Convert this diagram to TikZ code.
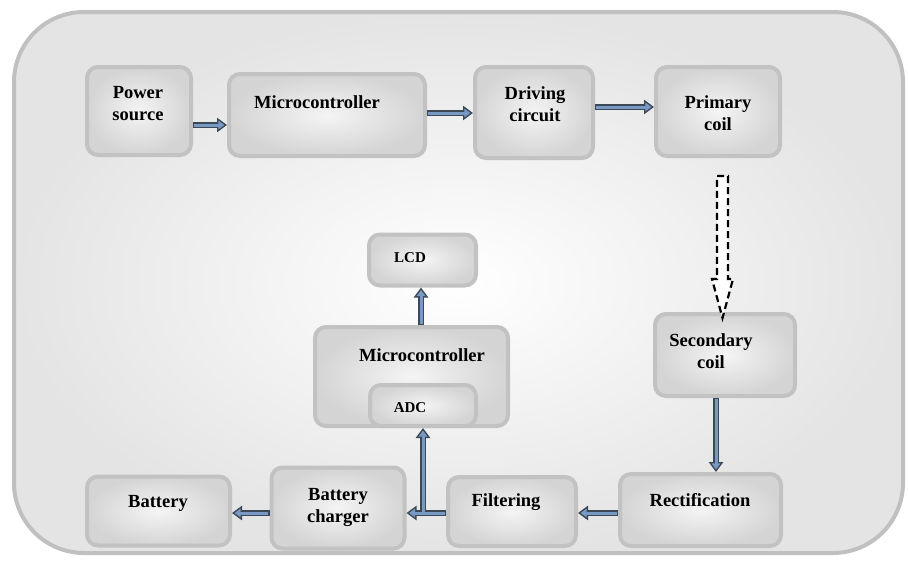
\documentclass[tikz,border=0pt]{standalone}
\usepackage{fontspec}
\setmainfont{Liberation Serif}
\usetikzlibrary{arrows.meta,calc}
\definecolor{frameline}{HTML}{C0C0C0}
\definecolor{bgout}{HTML}{E4E4E4}
\definecolor{boxline}{HTML}{C2C2C2}
\definecolor{boxout}{HTML}{D4D4D4}
\definecolor{boxin}{HTML}{F4F4F4}
\definecolor{arrdark}{HTML}{3C4856}
\definecolor{arrlight}{HTML}{7799C4}
\tikzset{
  blk/.style={draw=boxline, line width=4pt, rounded corners=11pt, inner color=boxin, outer color=boxout, inner sep=0pt},
  txt/.style={font=\fontsize{18.5}{22}\selectfont\bfseries, align=center, inner sep=0pt, text=black},
  arrout/.style={draw=arrdark, line width=6.5pt, -{Triangle[length=10pt,width=14pt]}},
  arrin/.style={draw=arrlight, line width=3pt, -{Triangle[length=6pt,width=8.5pt]}, shorten >=2.6pt, shorten <=1.2pt},
  dasharrow/.style={draw=black, fill=white, line width=2.2pt, dash pattern=on 7pt off 4pt, line join=miter}
}
\newcommand\barrow[2]{\draw[arrout] #1 -- #2; \draw[arrin] #1 -- #2;}
\begin{document}
\begin{tikzpicture}[x=1pt,y=-1pt]
\useasboundingbox (0,0) rectangle (908,565);
% outer frame
\draw[draw=frameline, line width=4pt, rounded corners=70pt, inner color=white, outer color=bgout] (14,12) rectangle (903,553);

% boxes
\node[blk, minimum width=104pt, minimum height=88pt] (ps) at (139,111) {};
\node[blk, minimum width=196pt, minimum height=82pt] (mc1) at (327,115) {};
\node[blk, minimum width=118pt, minimum height=91pt] (dc) at (534,112.5) {};
\node[blk, minimum width=124pt, minimum height=89pt] (pc) at (718,111.5) {};
\node[blk, minimum width=140pt, minimum height=82pt] (sc) at (725,355) {};
\node[blk, minimum width=161pt, minimum height=72pt] (rect) at (700.5,510) {};
\node[blk, minimum width=128pt, minimum height=69pt] (filt) at (512,511.5) {};
\node[blk, minimum width=133pt, minimum height=81pt] (bc) at (338,508) {};
\node[blk, minimum width=143pt, minimum height=69pt] (bat) at (158.5,511) {};
\node[blk, minimum width=193pt, minimum height=99pt] (mc2) at (411.5,376.5) {};
\node[blk, minimum width=106pt, minimum height=41pt] (adc) at (423,405.5) {};
\node[blk, minimum width=107pt, minimum height=51pt] (lcd) at (422.5,260) {};

% texts
\node[txt] (tps) at (138,104) {Power\\source};
\node[txt] (tmc1) at (317,102) {Microcontroller};
\node[txt] (tdc) at (535,104) {Driving\\circuit};
\node[txt] (tpc) at (718,113) {Primary\\coil};
\node[txt] (tsc) at (711,351) {Secondary\\coil};
\node[txt] (trect) at (700,500) {Rectification};
\node[txt] (tfilt) at (506,502) {Filtering};
\node[txt] (tbc) at (338,507) {Battery\\charger};
\node[txt] (tbat) at (158,503) {Battery};
\node[txt] (tmc2) at (422,355) {Microcontroller};
\node[txt, font=\fontsize{15}{18}\selectfont\bfseries] (tadc) at (410,408) {ADC};
\node[txt, font=\fontsize{15}{18}\selectfont\bfseries] (tlcd) at (410,258) {LCD};

% connectors
\coordinate (a1) at ([yshift=-14pt]ps.east);
\coordinate (a2) at ([yshift=2pt]mc1.east);
\coordinate (a3) at ([yshift=5.5pt]dc.east);
\coordinate (a4) at ([xshift=-9pt]sc.south);
\coordinate (a5) at ([yshift=-3pt]rect.west);
\coordinate (a6) at ([yshift=-1.5pt]filt.west);
\coordinate (j) at (adc.south |- a6);
\coordinate (a7) at ([yshift=-5pt]bc.west);
\coordinate (a8) at ([xshift=9.5pt]mc2.north);

\barrow{(a1)}{(mc1.west |- a1)}
\barrow{(a2)}{(dc.west |- a2)}
\barrow{(a3)}{(pc.west |- a3)}
\barrow{(a4)}{(rect.north -| a4)}
\barrow{(a5)}{(filt.east |- a5)}
\draw[arrout] (j) -- (adc.south);
\barrow{(a6)}{(bc.east |- a6)}
\draw[arrin] (j) -- (adc.south);
\barrow{(a7)}{(bat.east |- a7)}
\barrow{(a8)}{(lcd.south -| a8)}

% dashed hollow arrow (inductive link)
\coordinate (d0) at ($(pc.south)+(4.5,18)$);
\coordinate (dtip) at ($(sc.north)+(-2.5,6)$);
\draw[dasharrow] let \p1=(d0), \p2=(dtip) in
  (\x1-5.5pt,\y1) -- (\x1+5.5pt,\y1) -- (\x1+5.5pt,\y2+39pt) -- (\x1+10.5pt,\y2+39pt)
  -- (\x2,\y2) -- (\x1-10.5pt,\y2+39pt) -- (\x1-5.5pt,\y2+39pt) -- cycle;
\end{tikzpicture}
\end{document}
